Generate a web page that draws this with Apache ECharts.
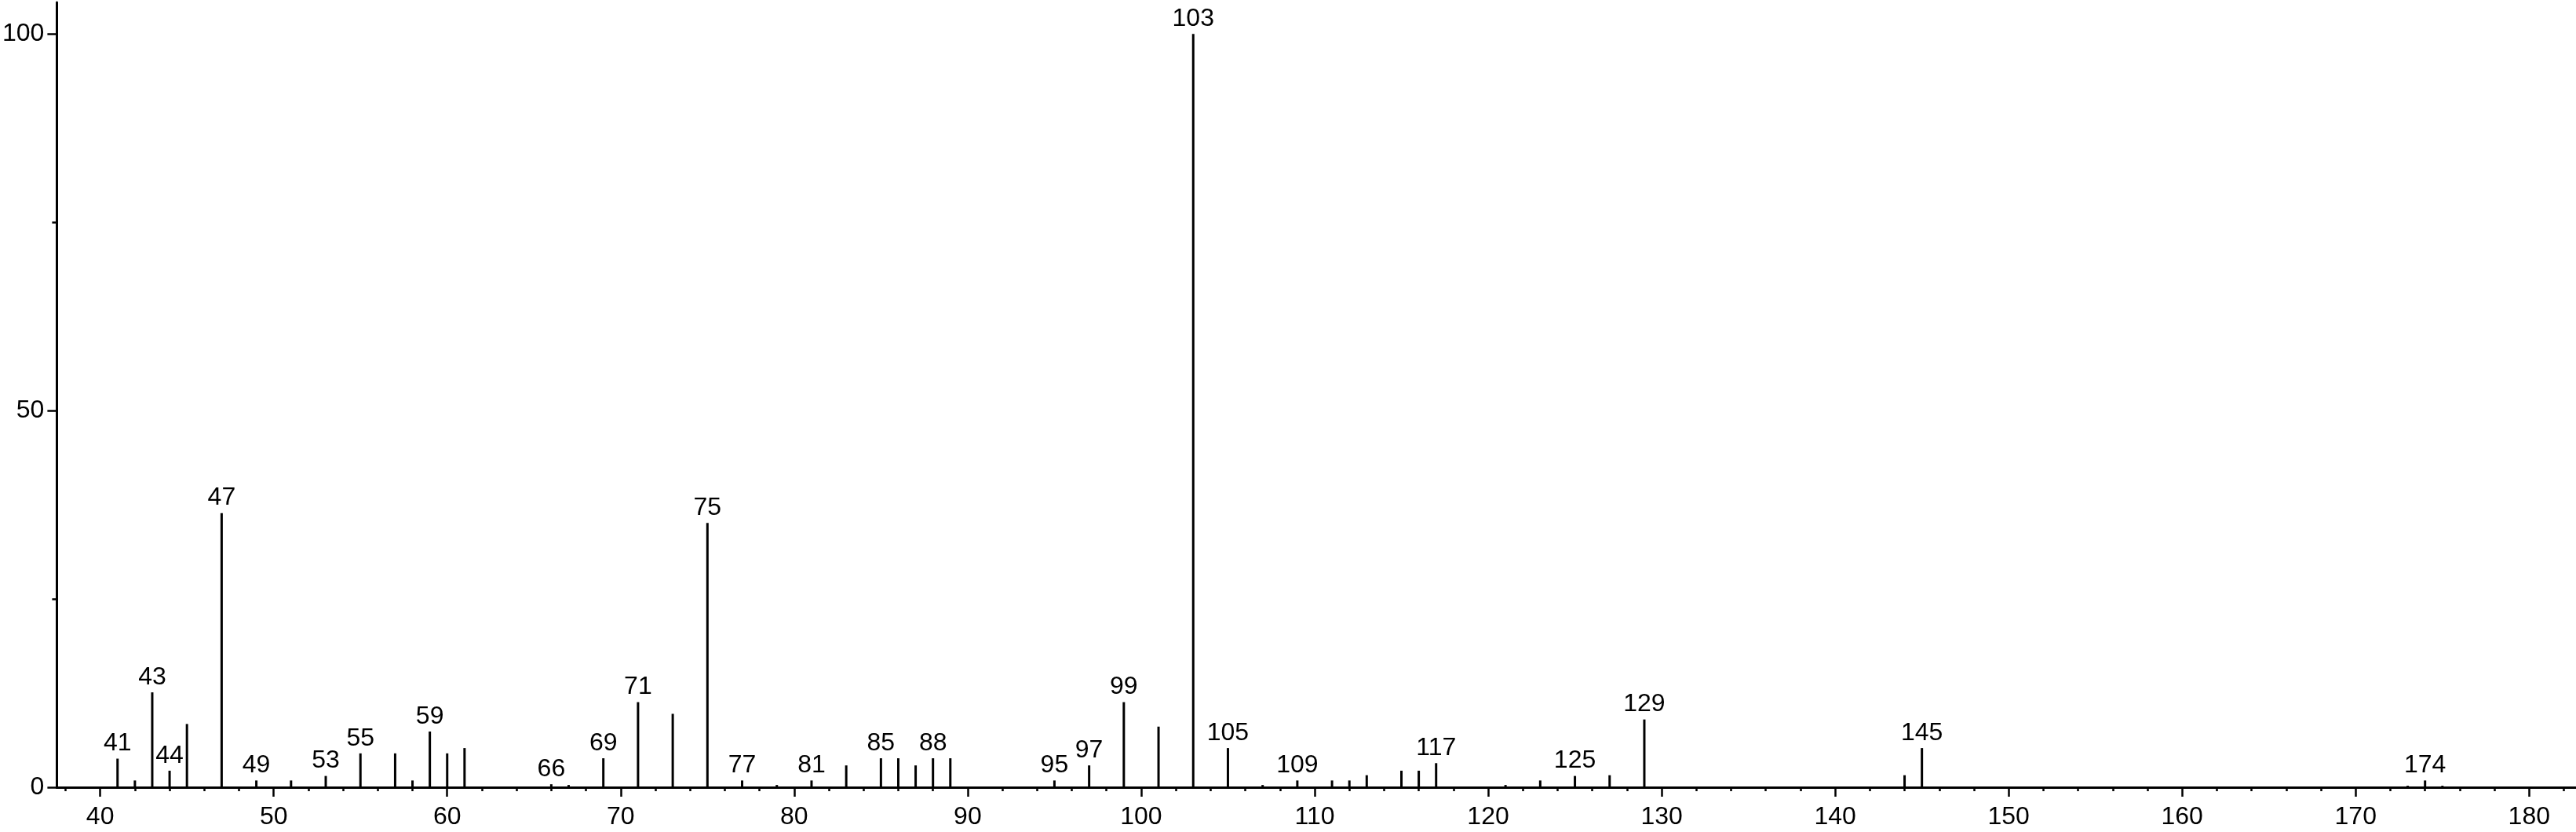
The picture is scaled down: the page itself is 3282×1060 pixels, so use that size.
<!DOCTYPE html>
<html>
<head>
<meta charset="utf-8">
<script src="https://cdn.jsdelivr.net/npm/echarts@6/dist/echarts.min.js"></script>
<style>
html,body{margin:0;padding:0;background:#fff;}
#chart{width:3282px;height:1060px;}
</style>
</head>
<body>
<div id="chart"></div>
<script>
// m/z values of the peaks
const mzValues = [41,42,43,44,45,47,49,51,53,55,57,58,59,60,61,66,67,69,71,73,75,77,79,81,83,85,86,87,88,89,95,97,99,101,103,105,107,109,111,112,113,115,116,117,121,123,125,127,129,144,145,173,174,175];
// relative intensities (%)
const intensities = [3.8,0.9,12.6,2.2,8.4,36.4,0.9,0.9,1.5,4.5,4.5,0.9,7.4,4.5,5.2,0.4,0.3,3.85,11.3,9.75,35.1,0.9,0.3,0.9,2.9,3.85,3.85,2.9,3.85,3.85,0.9,2.9,11.3,8.05,100,5.2,0.3,0.9,0.9,0.9,1.6,2.2,2.2,3.2,0.3,0.9,1.5,1.6,9.0,1.6,5.2,0.2,0.9,0.2];
// peaks carrying an m/z label
const labeledPeaks = [41,43,44,47,49,53,55,59,66,69,71,75,77,81,85,88,95,97,99,103,105,109,117,125,129,145,174];
// axis tick labels
const xTickLabels = [40,50,60,70,80,90,100,110,120,130,140,150,160,170,180];
const xMinorTicks = [38,42,44,46,48,52,54,56,58,62,64,66,68,72,74,76,78,82,84,86,88,92,94,96,98,102,104,106,108,112,114,116,118,122,124,126,128,132,134,136,138,142,144,146,148,152,154,156,158,162,164,166,168,172,174,176,178,182];
const yTickLabels = [0,50,100];
const yMinorTicks = [25,75];

const FONT = "'Liberation Sans', Arial, Helvetica, sans-serif";
const data = mzValues.map((m, i) => {
  const item = { value: [m, intensities[i]] };
  if (labeledPeaks.indexOf(m) >= 0) item.label = { show: true };
  return item;
});

const chart = echarts.init(document.getElementById('chart'));
const xCommon = { type: 'value', min: 37.5, max: 182.7, gridIndex: 0, splitLine: { show: false } };
const yCommon = { type: 'value', min: 0, max: 104.2, gridIndex: 0, splitLine: { show: false } };
chart.setOption({
  animation: false,
  backgroundColor: '#ffffff',
  grid: { left: 69, right: 0, top: 3, bottom: 57, containLabel: false },
  xAxis: [
    Object.assign({}, xCommon, {
      position: 'bottom',
      axisLine: { show: true, lineStyle: { color: '#000', width: 3 } },
      axisTick: { show: true, customValues: xTickLabels, length: 12, lineStyle: { color: '#000', width: 2.5 } },
      axisLabel: { show: true, customValues: xTickLabels, margin: 22, color: '#000', fontSize: 32, fontFamily: FONT }
    }),
    Object.assign({}, xCommon, {
      position: 'bottom',
      axisLine: { show: false },
      axisTick: { show: true, customValues: xMinorTicks, length: 5, lineStyle: { color: '#000', width: 2.5 } },
      axisLabel: { show: false }
    })
  ],
  yAxis: [
    Object.assign({}, yCommon, {
      position: 'left',
      axisLine: { show: true, lineStyle: { color: '#000', width: 3 } },
      axisTick: { show: true, customValues: yTickLabels, length: 12, lineStyle: { color: '#000', width: 2.5 } },
      axisLabel: { show: true, customValues: yTickLabels, margin: 16, color: '#000', fontSize: 32, fontFamily: FONT }
    }),
    Object.assign({}, yCommon, {
      position: 'left',
      axisLine: { show: false },
      axisTick: { show: true, customValues: yMinorTicks, length: 6, lineStyle: { color: '#000', width: 2.5 } },
      axisLabel: { show: false }
    })
  ],
  series: [{
    type: 'bar',
    xAxisIndex: 0,
    yAxisIndex: 0,
    barWidth: 3,
    itemStyle: { color: '#000' },
    label: {
      show: false,
      position: 'top',
      distance: 3,
      color: '#000',
      fontSize: 32,
      fontFamily: FONT,
      formatter: p => String(p.value[0])
    },
    data: data
  }]
});
</script>
</body>
</html>
